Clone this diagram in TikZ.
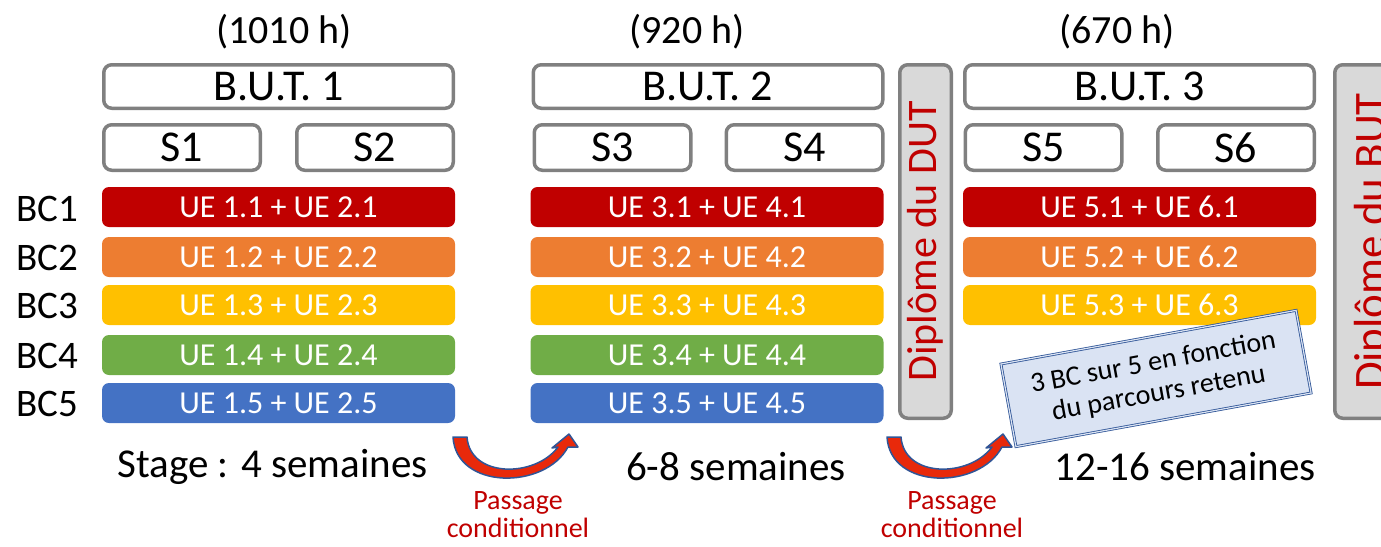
\documentclass[tikz,border=0pt]{standalone}
\usepackage{fontspec}
\setmainfont{Carlito}
\usetikzlibrary{positioning}

\definecolor{bRed}{HTML}{C00000}
\definecolor{bOrange}{HTML}{ED7D31}
\definecolor{bYellow}{HTML}{FFC000}
\definecolor{bGreen}{HTML}{70AD47}
\definecolor{bBlue}{HTML}{4472C4}
\definecolor{bGray}{HTML}{808080}
\definecolor{dipFill}{HTML}{D9D9D9}
\definecolor{noteFill}{HTML}{DAE3F3}
\definecolor{noteBlue}{HTML}{2F5597}
\definecolor{arrRed}{HTML}{E8290B}

\newcommand{\fs}[1]{\fontsize{#1}{#1}\selectfont}

\begin{document}
\begin{tikzpicture}[x=1pt, y=-1pt,
  yr/.style={inner sep=0pt, font=\fs{40}},
  but/.style={draw=bGray, line width=3.5pt, rounded corners=8pt, fill=white,
    inner sep=0pt, minimum width=349.5pt, minimum height=43.5pt, font=\fs{44}},
  sem/.style={but, minimum width=156.5pt, minimum height=45.5pt},
  ue/.style={rounded corners=7pt, inner sep=0pt, minimum width=353pt,
    minimum height=40pt, text=white, font=\fs{32}},
  bc/.style={inner sep=0pt, font=\fs{39}},
  dip/.style={draw=bGray, line width=3.5pt, rounded corners=8pt, fill=dipFill,
    inner sep=0pt, minimum width=353.5pt, minimum height=51.5pt, rotate=90,
    text=bRed, font=\fs{42}},
  cond/.style={align=center, text=bRed, font=\fs{28}},
  passage/.pic={
    \filldraw[fill=arrRed, draw=noteBlue, line width=1.5pt, line join=round]
      (0,0) .. controls (3,53) and (92,53) .. (115,10) -- (125,10) -- (116,-3)
      -- (99,11) -- (105,10) .. controls (82,41) and (17,41) .. (14,0) -- cycle;
  }]
\useasboundingbox (0,0) rectangle (1381,546);

% heures
\node[yr] at (284,32) (h1) {(1010 h)};
\node[yr] at (687,32) (h2) {(920 h)};
\node[yr] at (1117,32) (h3) {(670 h)};

% annees et semestres
\node[but] at (278.5,86.5) (but1) {B.U.T. 1};
\node[but] at (708,86.5) (but2) {B.U.T. 2};
\node[but] at (1139.5,86.5) (but3) {B.U.T. 3};
\node[sem] at (182,147.5) (s1) {S1};
\node[sem] at (375,147.5) (s2) {S2};
\node[sem] at (612.5,147.5) (s3) {S3};
\node[sem] at (804.5,147.5) (s4) {S4};
\node[sem] at (1043.5,147.5) (s5) {S5};
\node[sem] at (1236,147.5) (s6) {S6};

% blocs de competences
\node[bc] at (47,209) (bc1) {BC1};
\node[bc] at (47,258) (bc2) {BC2};
\node[bc] at (47,306) (bc3) {BC3};
\node[bc] at (47,356) (bc4) {BC4};
\node[bc] at (47,404) (bc5) {BC5};

\node[ue, fill=bRed] at (278.5,207) (ue11) {UE 1.1 + UE 2.1};
\node[ue, fill=bOrange] at (278.5,257) (ue12) {UE 1.2 + UE 2.2};
\node[ue, fill=bYellow] at (278.5,305) (ue13) {UE 1.3 + UE 2.3};
\node[ue, fill=bGreen] at (278.5,355) (ue14) {UE 1.4 + UE 2.4};
\node[ue, fill=bBlue] at (278.5,403) (ue15) {UE 1.5 + UE 2.5};

\node[ue, fill=bRed] at (707,207) (ue31) {UE 3.1 + UE 4.1};
\node[ue, fill=bOrange] at (707,257) (ue32) {UE 3.2 + UE 4.2};
\node[ue, fill=bYellow] at (707,305) (ue33) {UE 3.3 + UE 4.3};
\node[ue, fill=bGreen] at (707,355) (ue34) {UE 3.4 + UE 4.4};
\node[ue, fill=bBlue] at (707,403) (ue35) {UE 3.5 + UE 4.5};

\node[ue, fill=bRed] at (1139.5,207) (ue51) {UE 5.1 + UE 6.1};
\node[ue, fill=bOrange] at (1139.5,257) (ue52) {UE 5.2 + UE 6.2};
\node[ue, fill=bYellow] at (1139.5,305) (ue53) {UE 5.3 + UE 6.3};

% diplomes
\node[dip] at (925.5,241.5) (dut) {Diplôme du DUT};
\node[dip, minimum height=76.5pt, font=\fs{45}] at (1373,241.5) (dbut) {Diplôme du BUT};

\node[draw=noteBlue, double=noteFill, double distance=1.2pt, line width=0.8pt,
  fill=noteFill, rotate=10.3, minimum width=300pt, minimum height=84pt,
  inner sep=0pt, align=center, font=\fontsize{28}{31}\selectfont]
  at (1156,378.5) (note) {3 BC sur 5 en fonction\\du parcours retenu};

% stages
\node[yr, font=\fs{41}] at (272.5,467) (st1) {Stage : 4 semaines};
\node[yr, font=\fs{41}] at (736,467) (st2) {6-8 semaines};
\node[yr, font=\fs{41}] at (1185,467) (st3) {12-16 semaines};

% passages
\pic at (453,437) {passage};
\pic at (887,437) {passage};
\node[cond] at (518,515) (p1) {Passage\\conditionnel};
\node[cond] at (952,515) (p2) {Passage\\conditionnel};

\end{tikzpicture}
\end{document}
